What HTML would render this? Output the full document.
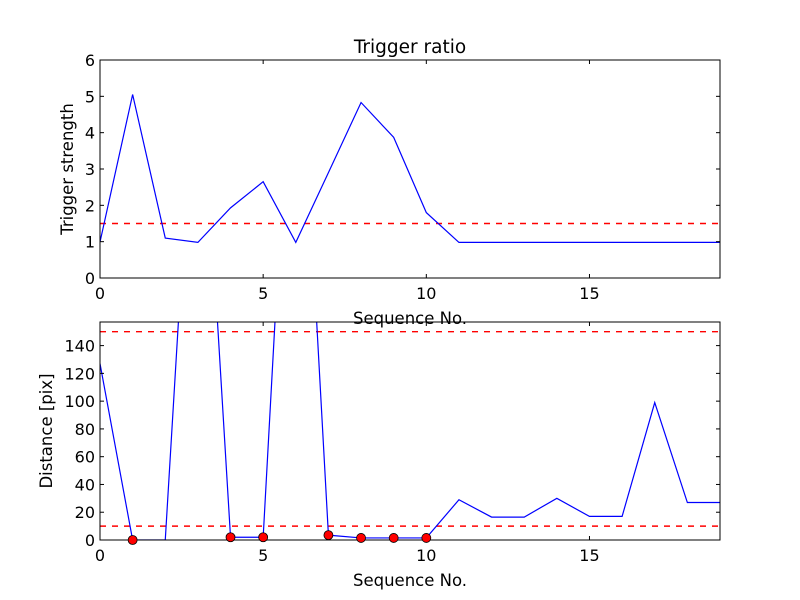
<!DOCTYPE html>
<html><head><meta charset="utf-8"><style>body{margin:0;background:#fff}svg{display:block;font-family:"DejaVu Sans","Liberation Sans",sans-serif}</style></head>
<body>
<svg id="fig" width="800" height="600"></svg>
<script>
const seq = [0,1,2,3,4,5,6,7,8,9,10,11,12,13,14,15,16,17,18,19];
const strength = [0.99,5.05,1.1,0.98,1.93,2.65,0.98,2.9,4.83,3.87,1.8,0.98,0.98,0.98,0.98,0.98,0.98,0.98,0.98,0.98];
const strengthThreshold = 1.5;
const distance = [127,0,0,390,2,2,430,3.5,1.5,1.5,1.5,29,16.5,16.5,30,17,17,99,27,27];
const markedIdx = [1,4,5,7,8,9,10];
const distThresholds = [10,150];
const xTicks = [0,5,10,15];
const yTicksTop = [0,1,2,3,4,5,6];
const yTicksBot = [0,20,40,60,80,100,120,140];

const NS="http://www.w3.org/2000/svg", svg=document.getElementById('fig');
function mk(t,a,p){const e=document.createElementNS(NS,t);for(const k in a)e.setAttribute(k,a[k]);(p||svg).appendChild(e);return e;}
function panel(name,top,bot,ymax,yticks,ylabel,drawFn,title){
  const L=100,R=720;
  const g=mk('g',{});
  
  
  const sx=v=>L+(v-0)/19*(R-L), sy=v=>bot-v/ymax*(bot-top);
  const cid='clip-'+name;
  const cp=mk('clipPath',{id:cid},g); mk('rect',{x:L,y:top,width:R-L,height:bot-top},cp);
  const plot=mk('g',{'clip-path':`url(#${cid})`},g);
  drawFn(plot,sx,sy);
  const frame=mk('rect',{x:L,y:top,width:R-L,height:bot-top,fill:'none',stroke:'#000','stroke-width':1},g);
  
  xTicks.forEach(t=>{const x=sx(t);
    mk('line',{x1:x,x2:x,y1:bot,y2:bot-4,stroke:'#000'},g);mk('line',{x1:x,x2:x,y1:top,y2:top+4,stroke:'#000'},g);
    const tx=mk('text',{x:x,y:bot+21,'text-anchor':'middle','font-size':16},g);tx.textContent=t;
    });
  yticks.forEach(t=>{const y=sy(t);
    mk('line',{x1:L,x2:L+4,y1:y,y2:y,stroke:'#000'},g);mk('line',{x1:R,x2:R-4,y1:y,y2:y,stroke:'#000'},g);
    const tx=mk('text',{x:L-5,y:y+6,'text-anchor':'end','font-size':16},g);tx.textContent=t;
    });
  const xl=mk('text',{x:(L+R)/2,y:bot+46,'text-anchor':'middle','font-size':16.5},g);xl.textContent='Sequence No.';
  
  const yl=mk('text',{x:0,y:0,'text-anchor':'middle','font-size':16.5,transform:`translate(${name==='top-panel'?73:52},${(top+bot)/2}) rotate(-90)`},g);yl.textContent=ylabel;
  
  if(title){const tt=mk('text',{x:(L+R)/2,y:top-7,'text-anchor':'middle','font-size':18.5},g);tt.textContent=title;
    }
}
function line(p,sx,sy,vals,name){const l=mk('polyline',{points:vals.map((v,i)=>sx(seq[i])+','+sy(v)).join(' '),fill:'none',stroke:'#0000ff','stroke-width':1.2},p);
  }
function hline(p,sx,sy,v,name){const l=mk('line',{x1:sx(0),x2:sx(19),y1:sy(v),y2:sy(v),stroke:'#ff0000','stroke-width':1.4,'stroke-dasharray':'6,6'},p);
  }

panel('top-panel',60,278,6,yTicksTop,'Trigger strength',(p,sx,sy)=>{
  hline(p,sx,sy,strengthThreshold,'threshold-line');
  line(p,sx,sy,strength,'strength-line');
},'Trigger ratio');
panel('bottom-panel',322,540,157,yTicksBot,'Distance [pix]',(p,sx,sy)=>{
  distThresholds.forEach(v=>hline(p,sx,sy,v,'distance-threshold-line'));
  line(p,sx,sy,distance,'distance-line');
});
(function(){const L=100,R=720,top=322,bot=540,sx=v=>L+v/19*(R-L),sy=v=>bot-v/157*(bot-top);
  markedIdx.forEach(i=>{const c=mk('circle',{cx:sx(seq[i]),cy:sy(distance[i]),r:4.5,fill:'#ff0000',stroke:'#000','stroke-width':0.8});
    });})();
</script>
</body></html>
